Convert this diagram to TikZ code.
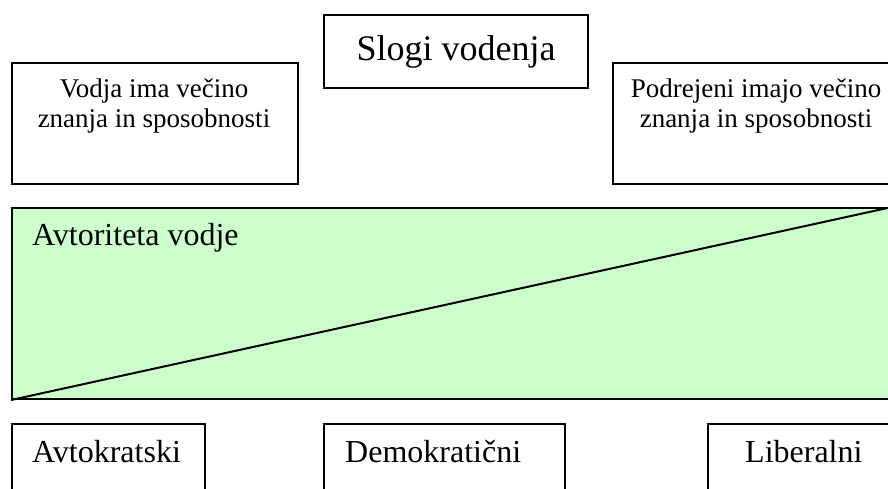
\documentclass[tikz,border=0pt]{standalone}
\usepackage{fontspec}
\setmainfont{Liberation Serif}
\definecolor{lightgreen}{HTML}{CCFFCC}
\begin{document}
\begin{tikzpicture}[x=1pt,y=-1pt,
  box/.style={draw=black, line width=2pt, rectangle, inner sep=0pt, anchor=north west},
  bigtxt/.style={font=\fontsize{36}{40}\selectfont, inner sep=0pt},
  midtxt/.style={font=\fontsize{32}{36}\selectfont, inner sep=0pt},
  smalltxt/.style={font=\fontsize{27}{30}\selectfont, inner sep=0pt}]
\useasboundingbox (0,0) rectangle (888,488);
\clip (0,0) rectangle (888,488);
% title
\node[box, minimum width=264pt, minimum height=73pt] (title) at (323,14) {};
\node[bigtxt, anchor=base] (titletxt) at (456,60) {Slogi vodenja};
% top side boxes
\node[box, minimum width=286pt, minimum height=121pt] (lbox) at (11,62) {};
\node[smalltxt, anchor=base] (l1) at (154,97) {Vodja ima večino};
\node[smalltxt, anchor=base] (l2) at (154,127) {znanja in sposobnosti};
\node[box, minimum width=288pt, minimum height=121pt] (rbox) at (612,62) {};
\node[smalltxt, anchor=base] (r1) at (756,97) {Podrejeni imajo večino};
\node[smalltxt, anchor=base] (r2) at (756,127) {znanja in sposobnosti};
% authority area
\node[box, fill=lightgreen, minimum width=879pt, minimum height=191pt] (auth) at (11,207) {};
\draw[line width=2pt] (auth.south west) -- (auth.north east);
\node[midtxt, anchor=base west] (authtxt) at (32,245) {Avtoriteta vodje};
% bottom boxes
\node[box, minimum width=193pt, minimum height=90pt] (avt) at (11,423) {};
\node[midtxt, anchor=base west] (avttxt) at (32,462) {Avtokratski};
\node[box, minimum width=241pt, minimum height=90pt] (dem) at (323,423) {};
\node[midtxt, anchor=base west] (demtxt) at (345,462) {Demokratični};
\node[box, minimum width=193pt, minimum height=90pt] (lib) at (707,423) {};
\node[midtxt, anchor=base west] (libtxt) at (745,462) {Liberalni};
\end{tikzpicture}
\end{document}
